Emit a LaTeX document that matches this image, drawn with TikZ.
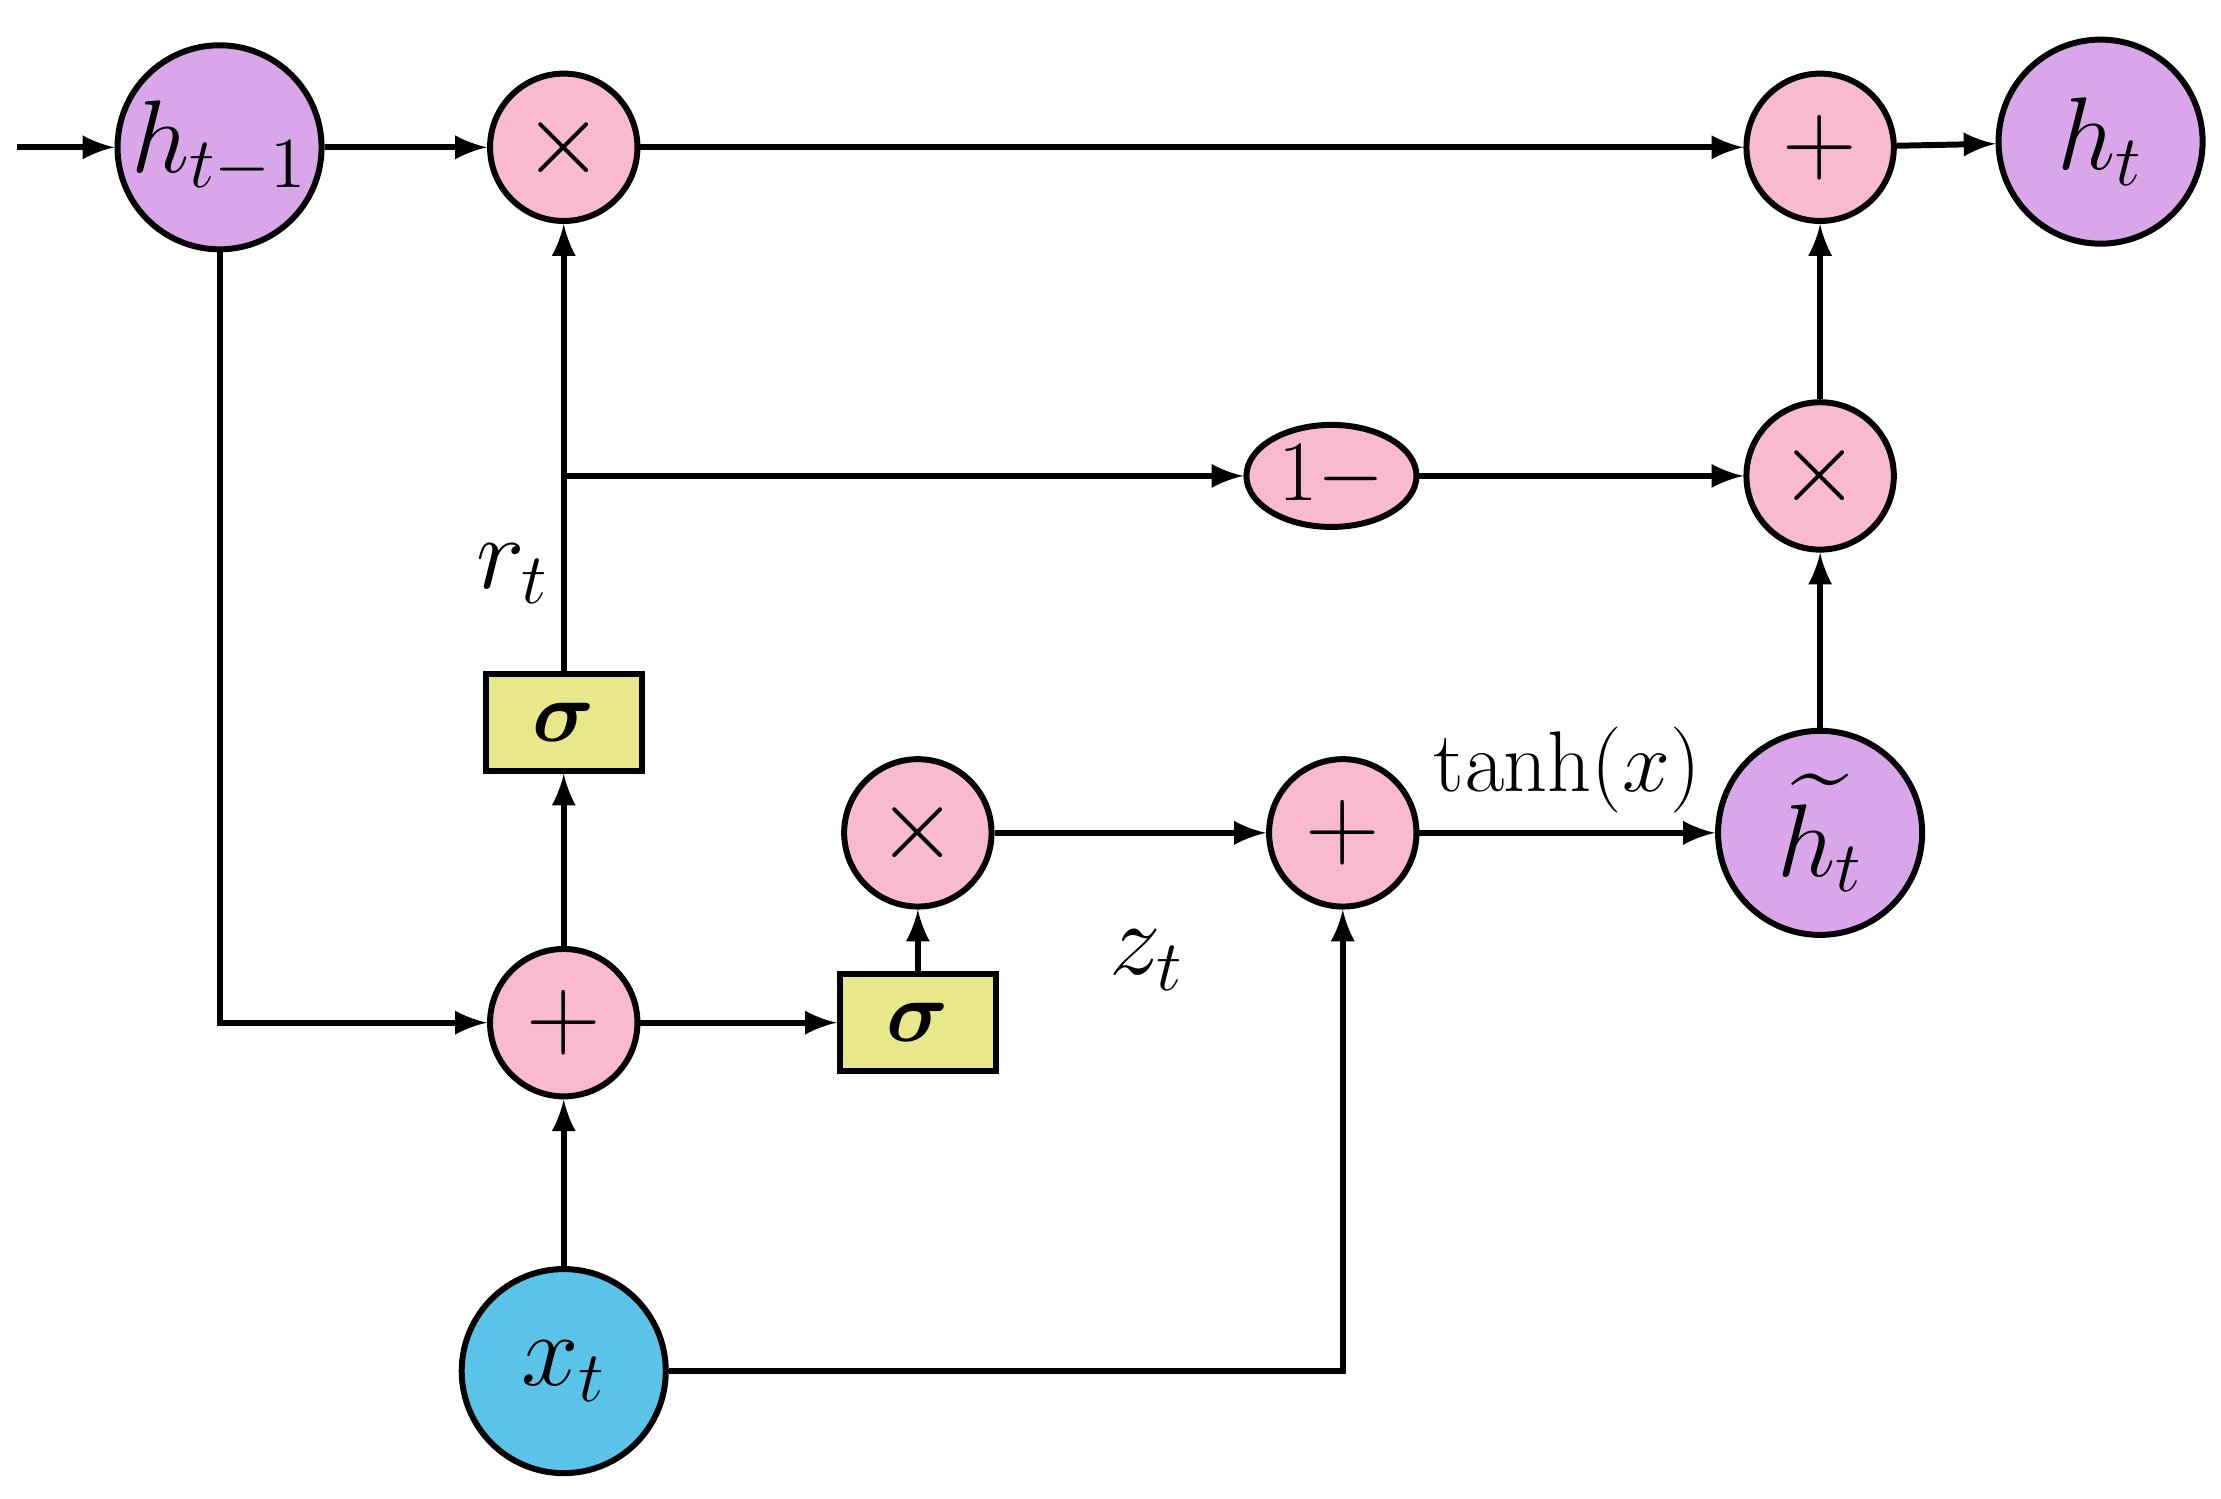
\documentclass[tikz,border=0pt]{standalone}
\usepackage{amsmath}
\usetikzlibrary{shapes.geometric}
\definecolor{purp}{HTML}{D9A6EA}
\definecolor{pinkc}{HTML}{F9BAD0}
\definecolor{yel}{HTML}{E8E88A}
\definecolor{bluec}{HTML}{5BC3E8}
\begin{document}
\begin{tikzpicture}[x=0.01cm,y=-0.01cm,>=latex,
  every path/.style={line width=1.2pt},
  big/.style={draw,circle,minimum size=1.44cm,inner sep=0pt,font=\fontsize{20}{24}\selectfont},
  op/.style={draw,circle,fill=pinkc,minimum size=1.04cm,inner sep=0pt,font=\fontsize{20}{24}\selectfont},
  gate/.style={draw,fill=yel,minimum width=1.1cm,minimum height=0.68cm,inner sep=0pt,font=\fontsize{18}{22}\selectfont},
  lbl/.style={font=\fontsize{20}{24}\selectfont}]
\useasboundingbox (0,0) rectangle (1568,1058);

% nodes
\node[big,fill=purp] (hp) at (155,104) {$h_{t-1}$};
\node[op] (m1) at (398,104) {$\times$};
\node[op] (pt) at (1285,104) {$+$};
\node[big,fill=purp] (h) at (1483,100) {$h_t$};
\node[op] (m2) at (1285,336) {$\times$};
\node[draw,ellipse,fill=pinkc,minimum width=1.2cm,minimum height=0.72cm,inner sep=0pt,font=\fontsize{16}{20}\selectfont] (om) at (940,336) {$1-$};
\node[gate] (s1) at (398,510) {$\boldsymbol{\sigma}$};
\node[op] (m3) at (648,588) {$\times$};
\node[op] (p2) at (948,588) {$+$};
\node[big,fill=purp] (ht) at (1285,588) {$\widetilde{h_t}$};
\node[op] (p1) at (398,722) {$+$};
\node[gate] (s2) at (648,722) {$\boldsymbol{\sigma}$};
\node[big,fill=bluec] (x) at (398,968) {$x_t$};
\coordinate (in) at (12,104);
\coordinate (br) at (398,336);

% connectors
\draw[->] (in) -- (hp);
\draw[->] (hp) -- (m1);
\draw[->] (m1) -- (pt);
\draw[->] (pt) -- (h);
\draw[->] (m2) -- (pt);
\draw[->] (ht) -- (m2);
\draw[->] (hp.south) |- (p1.west);
\draw[->] (x) -- (p1);
\draw[->] (p1) -- (s1);
\draw[->] (s1) -- (m1);
\draw[->] (br) -- (om);
\draw[->] (om) -- (m2);
\draw[->] (p1) -- (s2);
\draw[->] (s2) -- (m3);
\draw[->] (m3) -- (p2);
\draw[->] (p2) -- node[above,font=\fontsize{17}{20}\selectfont]{$\mathrm{tanh}(x)$} (ht);
\draw[->] (x.east) -| (p2.south);

% labels
\node[lbl] (rt) at (362,405) {$r_t$};
\node[lbl] (zt) at (810,678) {$z_t$};
\end{tikzpicture}
\end{document}
